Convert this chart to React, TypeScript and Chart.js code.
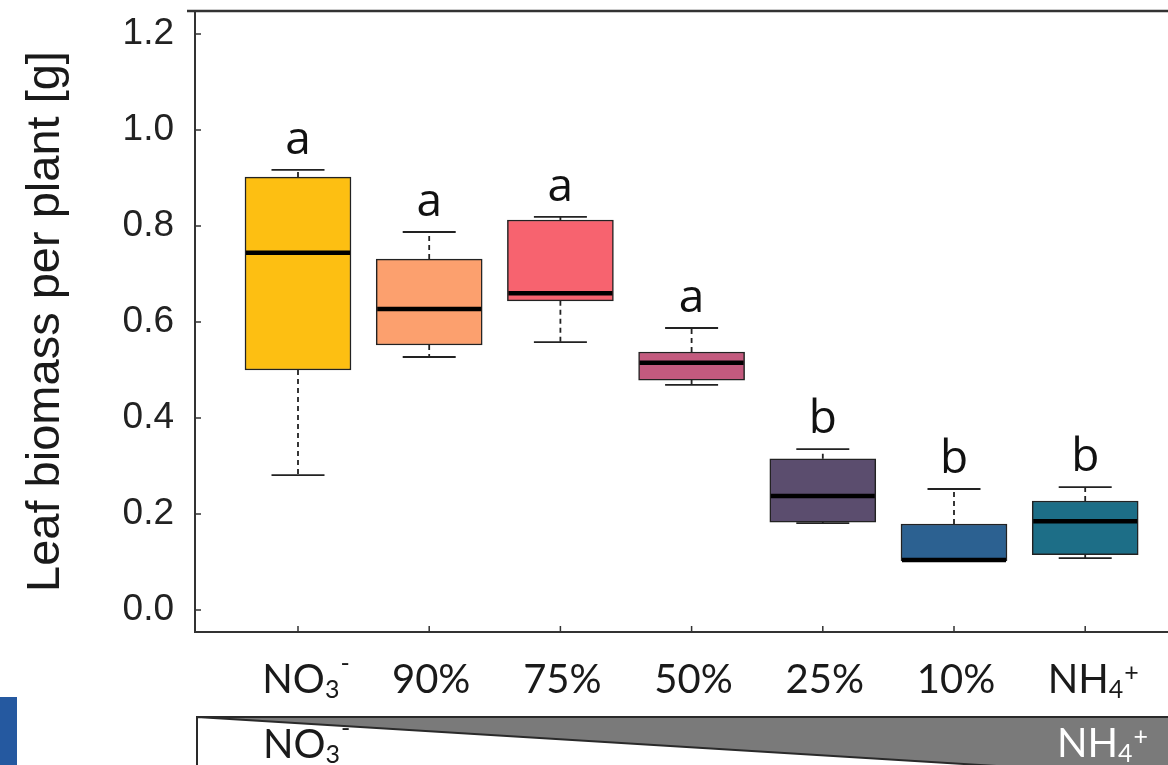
import React, { useEffect, useRef } from "react";
import { Chart, registerables } from "chart.js";

Chart.register(...registerables);

// ---- data ----
const categories = ["NO3-", "90%", "75%", "50%", "25%", "10%", "NH4+"];
const labelBase = ["NO", "90%", "75%", "50%", "25%", "10%", "NH"];
const labelSub = ["3", "", "", "", "", "", "4"];
const labelSup = ["-", "", "", "", "", "", "+"];
const whiskerLow = [0.281, 0.527, 0.558, 0.469, 0.181, 0.102, 0.108];
const q1 = [0.5, 0.552, 0.644, 0.479, 0.183, 0.102, 0.115];
const median = [0.744, 0.627, 0.66, 0.515, 0.2375, 0.104, 0.185];
const q3 = [0.902, 0.731, 0.8125, 0.5375, 0.315, 0.179, 0.227];
const whiskerHigh = [0.917, 0.7875, 0.819, 0.5875, 0.335, 0.252, 0.256];
const letters = ["a", "a", "a", "a", "b", "b", "b"];
const yTicks = [0, 0.2, 0.4, 0.6, 0.8, 1.0, 1.2];
const boxColors = ["#fdbf12", "#fca06e", "#f7636f", "#c35a7e", "#5b4d6e", "#2c6191", "#1d6e87"];
const yTitle = "Leaf biomass per plant [g]";

const LABEL_FONT = "Lato, 'Open Sans', sans-serif";

function drawChem(ctx: CanvasRenderingContext2D, base: string, sub: string, sup: string, x: number, baseline: number, align: "center" | "left", color: string, size: number) {
  const subSize = Math.round(size * 0.63);
  ctx.save();
  ctx.fillStyle = color;
  ctx.textBaseline = "alphabetic";
  ctx.textAlign = "left";
  ctx.font = `${size}px ${LABEL_FONT}`;
  const wb = ctx.measureText(base).width;
  ctx.font = `${subSize}px ${LABEL_FONT}`;
  const ws = sub ? ctx.measureText(sub).width : 0;
  const wp = sup ? ctx.measureText(sup).width + 1 : 0;
  const total = wb + ws + wp;
  let sx = align === "center" ? x - total / 2 : x;
  ctx.font = `${size}px ${LABEL_FONT}`;
  ctx.fillText(base, sx, baseline);
  sx += wb;
  ctx.font = `${subSize}px ${LABEL_FONT}`;
  if (sub) {
    ctx.fillText(sub, sx, baseline + 5);
    sx += ws;
  }
  if (sup) {
    ctx.textBaseline = "middle";
    const rise = sup === "-" ? 29 : 20;
    ctx.fillText(sup, sx + 1, baseline - rise);
  }
  ctx.restore();
}

const boxPlugin = {
  id: "boxExtras",
  beforeDatasetsDraw(chart: any) {
    const { ctx, scales } = chart;
    const x = scales.x;
    const y = scales.y;
    const meta = chart.getDatasetMeta(0);
    ctx.save();
    categories.forEach((_, i) => {
      const cx = x.getPixelForValue(i);
      const bar: any = meta.data[i];
      const capHalf = bar.width / 4;
      ctx.strokeStyle = "#222";
      ctx.lineWidth = 1.8;
      ctx.setLineDash([5, 4]);
      ctx.beginPath();
      ctx.moveTo(cx, y.getPixelForValue(q3[i]));
      ctx.lineTo(cx, y.getPixelForValue(whiskerHigh[i]));
      ctx.moveTo(cx, y.getPixelForValue(q1[i]));
      ctx.lineTo(cx, y.getPixelForValue(whiskerLow[i]));
      ctx.stroke();
      ctx.setLineDash([]);
      ctx.beginPath();
      const yh = y.getPixelForValue(whiskerHigh[i]);
      const yl = y.getPixelForValue(whiskerLow[i]);
      ctx.moveTo(cx - capHalf, yh);
      ctx.lineTo(cx + capHalf, yh);
      ctx.moveTo(cx - capHalf, yl);
      ctx.lineTo(cx + capHalf, yl);
      ctx.stroke();
    });
    ctx.restore();
  },
  afterDatasetsDraw(chart: any) {
    const { ctx, scales } = chart;
    const x = scales.x;
    const y = scales.y;
    const meta = chart.getDatasetMeta(0);
    ctx.save();
    categories.forEach((_, i) => {
      const cx = x.getPixelForValue(i);
      const bar: any = meta.data[i];
      const half = bar.width / 2;
      const ym = y.getPixelForValue(median[i]);
      ctx.strokeStyle = "#000";
      ctx.lineWidth = 4.5;
      ctx.beginPath();
      ctx.moveTo(cx - half + 1, ym);
      ctx.lineTo(cx + half - 1, ym);
      ctx.stroke();
      ctx.fillStyle = "#111";
      ctx.font = "46px 'Open Sans', sans-serif";
      ctx.textAlign = "center";
      ctx.textBaseline = "alphabetic";
      ctx.fillText(letters[i], cx, y.getPixelForValue(whiskerHigh[i]) - 16);
    });
    ctx.restore();
  },
  afterDraw(chart: any) {
    const { ctx, scales, chartArea } = chart;
    const x = scales.x;
    const y = scales.y;
    const { left, right, top, bottom } = chartArea;
    ctx.save();
    ctx.strokeStyle = "#333";
    // top frame line
    ctx.lineWidth = 2.5;
    ctx.beginPath();
    ctx.moveTo(left - 8, top);
    ctx.lineTo(right, top);
    ctx.stroke();
    // bottom axis line
    ctx.lineWidth = 2;
    ctx.beginPath();
    ctx.moveTo(left, bottom);
    ctx.lineTo(right, bottom);
    ctx.stroke();
    // inward tick marks
    ctx.lineWidth = 1.5;
    ctx.beginPath();
    yTicks.forEach((v) => {
      const py = y.getPixelForValue(v);
      ctx.moveTo(left, py);
      ctx.lineTo(left + 6, py);
    });
    categories.forEach((_, i) => {
      const px = x.getPixelForValue(i);
      ctx.moveTo(px, bottom);
      ctx.lineTo(px, bottom - 6);
    });
    ctx.stroke();
    // category labels
    categories.forEach((_, i) => {
      const px = x.getPixelForValue(i);
      const shift = labelSub[i] ? 8 : 2;
      drawChem(ctx, labelBase[i], labelSub[i], labelSup[i], px + shift, bottom + 61, "center", "#1a1a1a", 40);
    });
    // bottom gradient panel
    const pTop = 717;
    const pLeft = left + 2;
    const pRight = chart.width;
    const slope = 48 / 783;
    const yEnd = pTop + (pRight - pLeft) * slope;
    ctx.fillStyle = "#7a7a7a";
    ctx.beginPath();
    ctx.moveTo(pLeft, pTop);
    ctx.lineTo(pRight, pTop);
    ctx.lineTo(pRight, yEnd);
    ctx.closePath();
    ctx.fill();
    ctx.strokeStyle = "#2a2a2a";
    ctx.lineWidth = 2;
    ctx.beginPath();
    ctx.moveTo(pLeft, chart.height);
    ctx.lineTo(pLeft, pTop);
    ctx.lineTo(pRight, pTop);
    ctx.moveTo(pLeft, pTop);
    ctx.lineTo(pRight, yEnd);
    ctx.stroke();
    drawChem(ctx, "NO", "3", "-", 263, 758, "left", "#1a1a1a", 40);
    drawChem(ctx, "NH", "4", "+", 1057, 757, "left", "#ffffff", 40);
    // blue square at far left
    ctx.fillStyle = "#2559a0";
    ctx.fillRect(0, 697, 17, chart.height - 697);
    ctx.restore();
  },
};

export default function App() {
  const canvasRef = useRef<HTMLCanvasElement | null>(null);

  useEffect(() => {
    if (!canvasRef.current) return;
    const k = 131.2;
    const xmin = -(298 - 195) / k;
    const xmax = xmin + (1168 - 195) / k;
    const chart = new Chart(canvasRef.current, {
      type: "bar",
      data: {
        datasets: [
          {
            data: categories.map((_, i) => ({ x: i, y: [q1[i], q3[i]] })) as any,
            backgroundColor: boxColors,
            borderColor: "#222",
            borderWidth: 1.5,
            borderSkipped: false,
            barThickness: 106,
          },
        ],
      },
      options: {
        responsive: false,
        animation: false,
        layout: { padding: { top: 11, bottom: 133, left: 0, right: 0 } },
        plugins: {
          legend: { display: false },
          tooltip: { enabled: false },
        },
        scales: {
          x: {
            type: "linear",
            display: false,
            offset: false,
            min: xmin,
            max: xmax,
          },
          y: {
            min: -0.046,
            max: 1.248,
            afterBuildTicks: (s: any) => {
              s.ticks = yTicks.map((v) => ({ value: v }));
            },
            afterFit: (s: any) => {
              s.width = 195;
              s.paddingTop = 0;
              s.paddingBottom = 0;
            },
            grid: { display: false, drawTicks: false },
            border: { display: true, color: "#333", width: 2 },
            ticks: {
              padding: 21,
              color: "#222",
              font: { family: "'Liberation Sans', Arial, sans-serif", size: 37 },
              callback: (v: any) => Number(v).toFixed(1),
            },
            title: {
              display: true,
              text: yTitle,
              color: "#1a1a1a",
              font: { family: "'Liberation Sans', Arial, sans-serif", size: 47 },
              padding: { top: 18, bottom: 0 },
            },
          },
        },
      },
      plugins: [boxPlugin],
    });
    return () => chart.destroy();
  }, []);

  return (
    <div style={{ position: "absolute", left: 0, top: 0, width: 1168, height: 765, background: "#fff" }}>
      <canvas ref={canvasRef} width={1168} height={765} style={{ display: "block" }} />
    </div>
  );
}
